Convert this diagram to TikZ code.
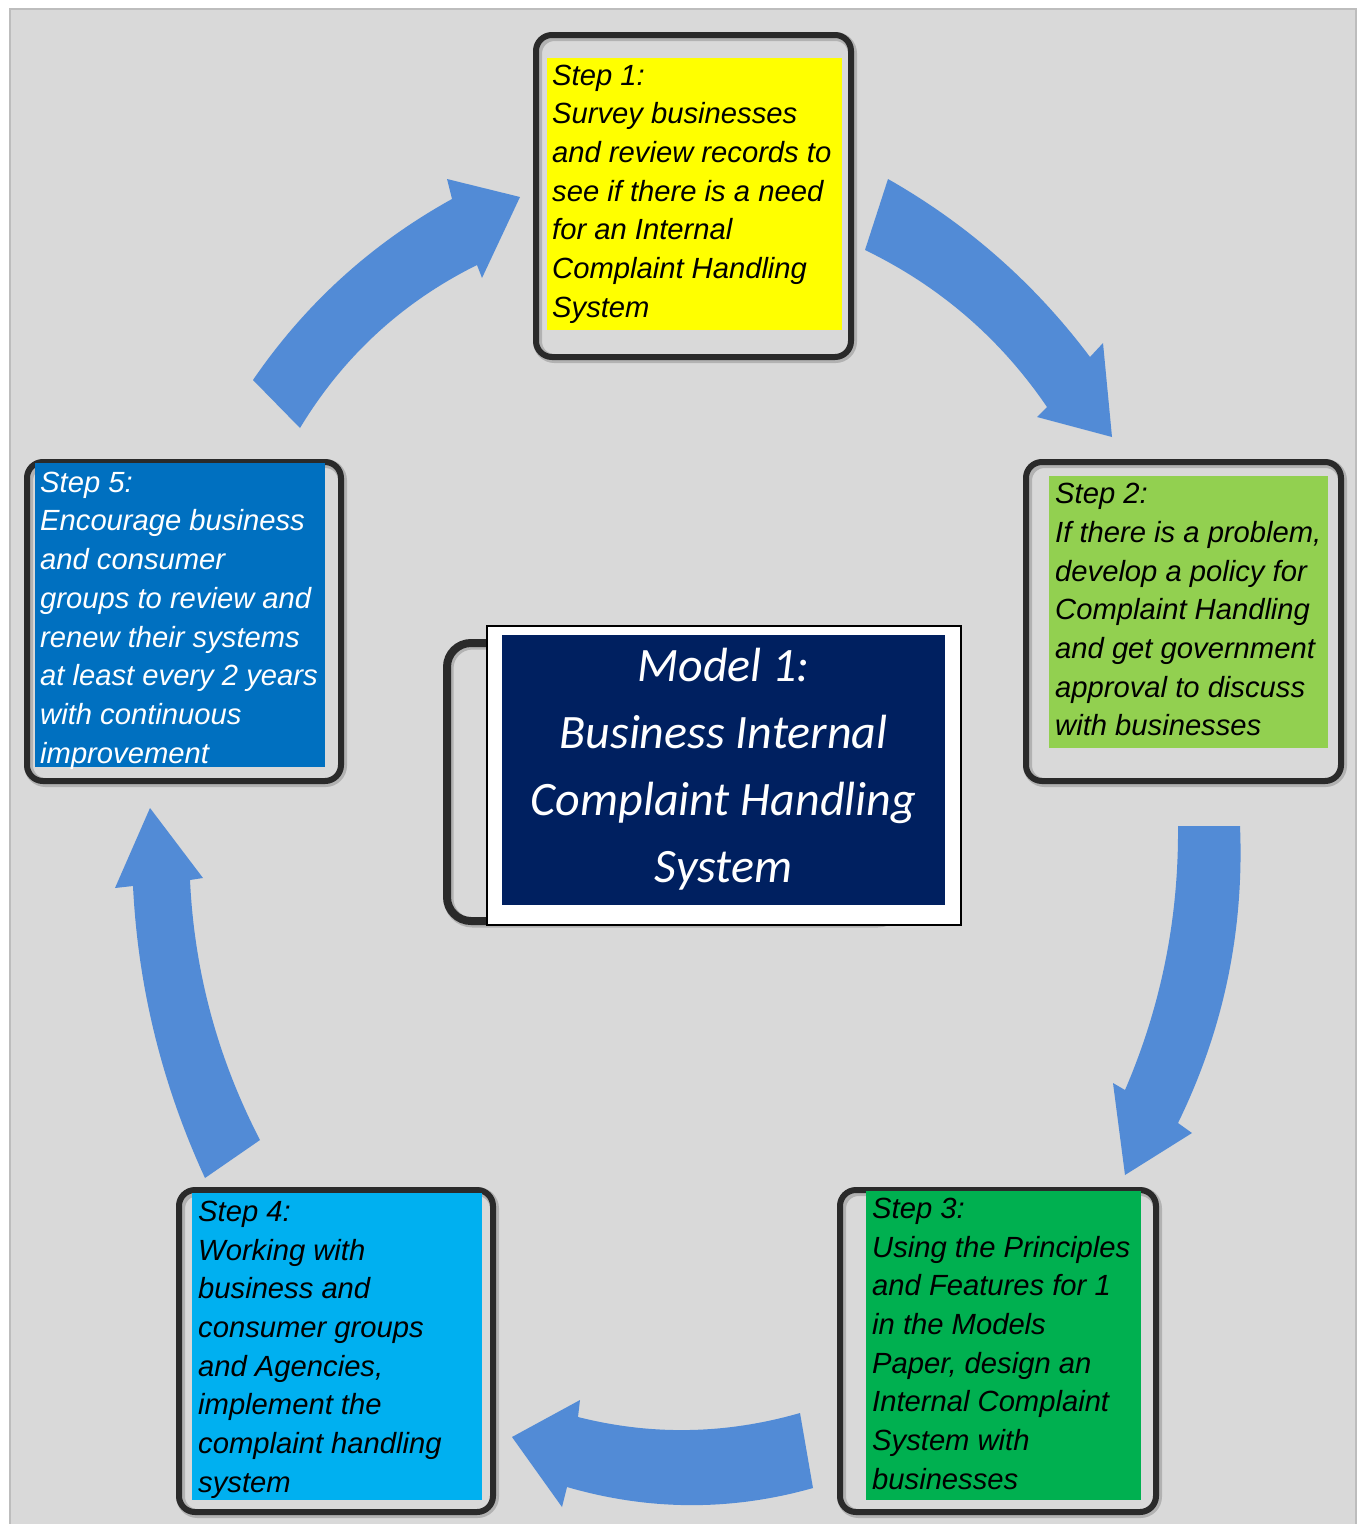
\documentclass[tikz,border=0pt]{standalone}
\usepackage{fontspec}
\setmainfont{Liberation Sans}
\newfontfamily\calfont{Carlito}
\definecolor{bgc}{HTML}{D9D9D9}
\definecolor{bgb}{HTML}{BDBDBD}
\definecolor{framec}{HTML}{2A2A2A}
\definecolor{arrowc}{HTML}{528BD6}
\definecolor{cone}{HTML}{FFFF00}
\definecolor{ctwo}{HTML}{92D050}
\definecolor{cthree}{HTML}{00B050}
\definecolor{cfour}{HTML}{00B0F0}
\definecolor{cfive}{HTML}{0070C0}
\definecolor{navyc}{HTML}{002060}
\begin{document}
\begin{tikzpicture}[x=1pt,y=-1pt,
  stepframe/.style={draw=framec,line width=6pt,rounded corners=16pt},
  frameshadow/.style={draw=black!30,line width=9pt,rounded corners=17pt},
  steptext/.style={anchor=north west,inner sep=0pt,align=left,
    font=\fontsize{29.2}{38.7}\selectfont\itshape},
  bigarrow/.style={fill=arrowc}]
\useasboundingbox (0,0) rectangle (1359,1524);
\fill[white] (0,0) rectangle (1359,1524);
\filldraw[fill=bgc,draw=bgb,line width=1.5pt] (10,9) rectangle (1356,1540);

% ---------- arrows ----------
\fill[bigarrow] (253,380) .. controls (305,304) and (371.3,243.7) .. (452,199) -- (447,179) -- (520,197)
  -- (482,278) -- (477,265) .. controls (402.2,302.1) and (343.2,356.5) .. (300,428) -- cycle;
\fill[bigarrow] (888,179) .. controls (967.7,224.3) and (1035,283.7) .. (1090,357) -- (1103,343) -- (1112,437)
  -- (1037,417) -- (1047,407) .. controls (1000.3,338.5) and (939.6,286.1) .. (865,250) -- cycle;
\fill[bigarrow] (1178,826) -- (1240,826) .. controls (1244.3,930.5) and (1223.7,1029.5) .. (1178,1123) -- (1192,1133)
  -- (1125,1175) -- (1113,1083) -- (1125,1090) .. controls (1161.2,1006) and (1178.8,918) .. (1178,826) -- cycle;
\fill[bigarrow] (800,1413) .. controls (726,1434.3) and (652,1435.7) .. (578,1417) -- (580,1400) -- (512,1437)
  -- (562,1507) -- (567,1487) .. controls (649,1510.8) and (731,1511.2) .. (813,1488) -- cycle;
\fill[bigarrow] (205,1178) .. controls (162,1084.7) and (138,987.3) .. (133,886) -- (115,888) -- (150,808)
  -- (203,878) -- (190,880) .. controls (194.3,971.7) and (217.7,1058.3) .. (260,1140) -- cycle;

% ---------- step frames ----------
\foreach \a/\b/\c/\d in {536/35/851/357, 1026/462/1341/781, 27/462/341/781,
                         840/1190/1156/1512, 179/1190/493/1512}{
  \draw[frameshadow] (\a+1.5,\b+1.5) rectangle (\c+1.5,\d+1.5);
  \draw[stepframe] (\a,\b) rectangle (\c,\d);
}
\fill[cone]   (547,58) rectangle (842,330);
\fill[ctwo]   (1049,476) rectangle (1328,748);
\fill[cfive]  (35,463) rectangle (325,767);
\fill[cthree] (866,1191) rectangle (1141,1500);
\fill[cfour]  (192,1193) rectangle (482,1500);

% ---------- step texts ----------
\node[steptext] (t1) at (552,57.9) {\strut Step 1:\\Survey businesses\\and review records to\\see if there is a need\\for an Internal\\Complaint Handling\\System};
\node[steptext] (t2) at (1055,476.4) {\strut Step 2:\\If there is a problem,\\develop a policy for\\Complaint Handling\\and get government\\approval to discuss\\with businesses};
\node[steptext] (t3) at (872,1191) {\strut Step 3:\\Using the Principles\\and Features for 1\\in the Models\\Paper, design an\\Internal Complaint\\System with\\businesses};
\node[steptext] (t4) at (198,1194) {\strut Step 4:\\Working with\\business and\\consumer groups\\and Agencies,\\implement the\\complaint handling\\system};
\node[steptext,text=white] (t5) at (40,464.9) {\strut Step 5:\\Encourage business\\and consumer\\groups to review and\\renew their systems\\at least every 2 years\\with continuous\\improvement};

% ---------- centre ----------
\draw[draw=black!30,line width=10pt,rounded corners=24pt] (448.5,644.5) rectangle (901.5,922.5);
\draw[draw=framec,line width=8pt,rounded corners=24pt] (447,643) rectangle (900,921);
\filldraw[fill=white,draw=black,line width=1.2pt] (487,626) rectangle (961,925);
\fill[navyc] (502,635) rectangle (945,905);
\node[anchor=north,inner sep=0pt,align=center,text=white,
  font=\calfont\fontsize{48}{67}\selectfont\itshape] (title) at (723.5,634.6)
  {\strut Model 1:\\Business Internal\\Complaint Handling\\System};
\end{tikzpicture}
\end{document}
